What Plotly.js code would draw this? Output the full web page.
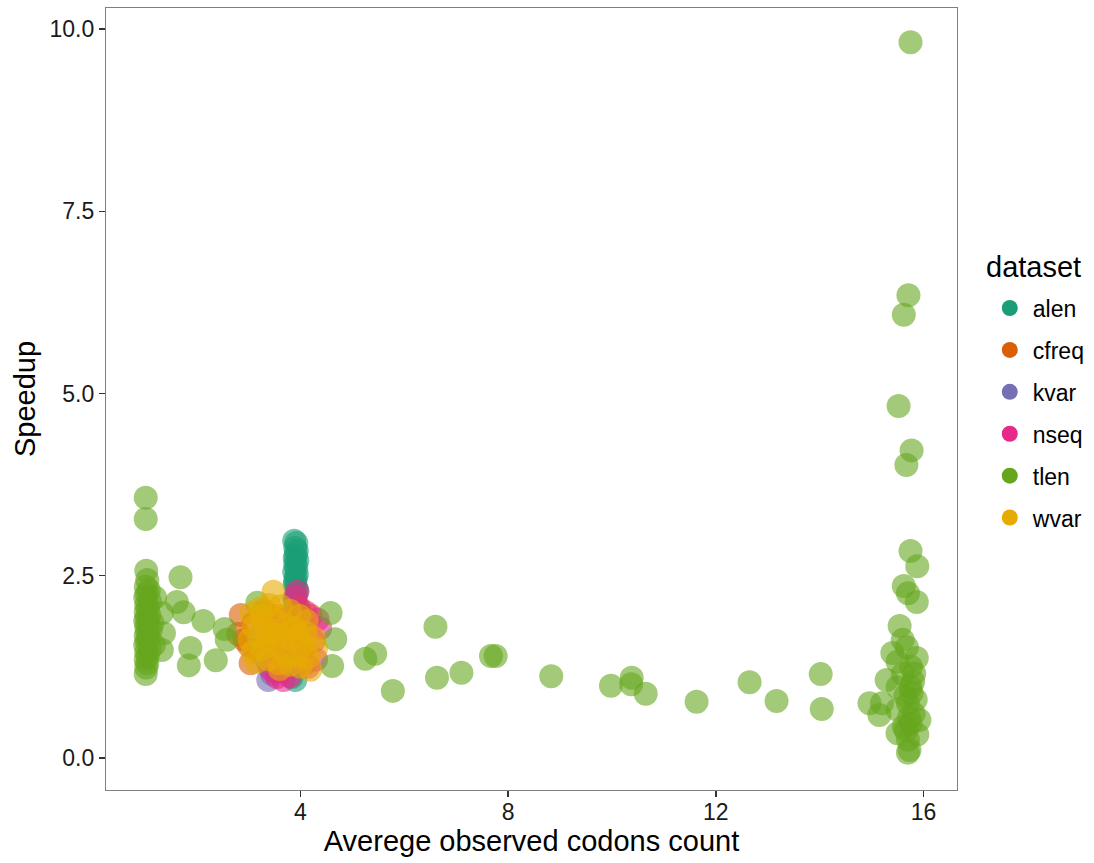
<!DOCTYPE html>
<html>
<head>
<meta charset="utf-8">
<script src="https://cdn.plot.ly/plotly-3.0.1.min.js"></script>
<style>html,body{margin:0;padding:0;background:#fff;}#chart{width:1094px;height:863px;}</style>
</head>
<body>
<div id="chart"></div>
<script>
const datasets = ["alen", "cfreq", "kvar", "nseq", "tlen", "wvar"];
const colors = ["#1B9E77", "#D95F02", "#7570B3", "#E7298A", "#66A61E", "#E6AB02"];

const alenX = [3.88,3.92,3.90,3.93,3.91,3.89,3.94,3.90,3.92,3.88,3.93,3.91,3.90,3.89,3.92,3.94,3.91,3.88,3.90,3.93,3.87,3.92,3.86,3.90,3.83,3.85,3.95];
const alenY = [2.98,2.95,2.88,2.84,2.78,2.74,2.71,2.65,2.61,2.55,2.52,2.47,2.42,2.38,2.33,2.29,2.24,2.18,2.14,2.09,2.02,1.95,1.85,1.07,1.11,1.60,1.75];

const cfreqX = [2.85,2.80,3.04,2.92,3.10,3.30,3.55,3.70,3.97,4.20,4.05,3.40,3.20,3.00,3.60,3.85,4.10];
const cfreqY = [1.96,1.70,1.30,1.62,1.85,2.02,1.95,1.40,2.07,1.95,1.50,1.25,1.45,1.55,1.70,1.80,1.30];

const kvarX = [3.38,3.45,3.60,3.30,3.75,3.50,3.20,3.90,4.00,3.65,3.35,3.80];
const kvarY = [1.07,1.15,1.30,1.50,1.45,1.75,1.65,1.55,1.85,1.60,1.35,1.25];

const nseqX = [3.94,3.90,4.38,4.33,3.55,3.67,3.80,4.25,4.10,3.50,3.70,3.95,4.30,3.45,3.85,4.15];
const nseqY = [2.28,2.20,1.78,1.90,1.11,1.07,1.12,1.60,2.00,1.40,1.90,1.50,1.35,1.20,1.65,1.25];

const tlenX = [1.02,1.02,1.03,1.05,1.02,1.08,1.04,1.01,1.10,1.03,1.06,1.02,1.09,1.04,1.01,1.07,1.03,1.12,1.05,1.02,1.08,1.04,1.01,1.10,1.03,1.06,1.02,1.05,1.03,1.02,1.15,1.20,1.18,
  1.69,1.62,1.75,1.33,1.37,1.33,1.88,1.85,2.13,2.37,2.54,2.58,3.17,
  4.58,4.67,4.61,5.25,5.44,5.78,6.60,6.63,7.10,7.67,7.76,8.83,9.98,10.38,10.37,10.65,11.63,12.65,13.17,14.02,14.04,14.96,
  15.75,15.71,15.62,15.52,15.77,15.67,15.75,15.88,15.62,15.70,15.87,15.54,15.60,15.68,15.40,15.87,15.50,15.76,15.82,15.29,15.50,15.75,15.77,15.20,15.70,15.15,15.50,15.81,15.62,15.75,15.92,15.50,15.70,15.88,15.73,15.70,15.65,15.80,15.60,15.72,15.66,15.85];
const tlenY = [3.57,3.28,2.57,2.44,2.35,2.30,2.25,2.20,2.15,2.10,2.05,2.00,1.96,1.92,1.88,1.84,1.80,1.76,1.72,1.68,1.64,1.60,1.55,1.50,1.45,1.40,1.35,1.30,1.24,1.15,1.85,2.20,1.55,
  2.48,2.14,2.00,1.99,1.71,1.48,1.51,1.27,1.88,1.34,1.77,1.62,2.13,
  1.99,1.63,1.26,1.36,1.43,0.92,1.80,1.10,1.17,1.40,1.40,1.12,0.99,1.10,1.01,0.88,0.77,1.04,0.78,1.15,0.67,0.75,
  9.82,6.35,6.08,4.83,4.22,4.02,2.84,2.63,2.36,2.26,2.14,1.81,1.62,1.52,1.44,1.37,1.32,1.25,1.16,1.07,0.97,0.97,0.89,0.75,0.75,0.59,0.66,0.61,0.43,0.47,0.52,0.34,0.25,0.32,0.11,0.07,0.85,1.05,1.15,0.55,0.38,0.80];

const wvarX = [3.48,3.05,3.22,3.40,3.62,3.80,3.98,4.12,3.10,3.30,3.52,3.72,3.90,4.10,4.25,3.02,3.20,3.45,3.65,3.85,4.05,4.30,3.08,3.28,3.50,3.70,3.92,4.15,3.15,3.38,3.58,3.80,4.00,4.19,3.60,3.35,3.75,3.55,3.95,3.25];
const wvarY = [2.28,1.98,2.05,2.10,2.08,2.02,1.95,1.88,1.80,1.85,1.90,1.82,1.78,1.72,1.65,1.62,1.66,1.70,1.62,1.60,1.55,1.50,1.45,1.50,1.52,1.44,1.40,1.38,1.32,1.35,1.30,1.28,1.25,1.21,1.22,1.60,1.72,1.75,1.68,1.95];

const xTicks = [4, 8, 12, 16];
const yTicks = [0, 2.5, 5, 7.5, 10];
const legendTitle = "dataset";

const seriesX = [alenX, cfreqX, kvarX, nseqX, tlenX, wvarX];
const seriesY = [alenY, cfreqY, kvarY, nseqY, tlenY, wvarY];

const FONT = "Liberation Sans, Arial, sans-serif";
const traces = [];
datasets.forEach((name, i) => {
  traces.push({
    type: "scatter", mode: "markers", x: seriesX[i], y: seriesY[i], name: name,
    showlegend: false, hoverinfo: "x+y+name",
    marker: {color: colors[i], size: 24, opacity: 0.6, line: {width: 0}}
  });
});
datasets.forEach((name, i) => {
  traces.push({
    type: "scatter", mode: "markers", x: [null], y: [null], name: name,
    legendgroup: name, showlegend: true,
    marker: {color: colors[i], size: 24, opacity: 1, line: {width: 0}}
  });
});

const layout = {
  width: 1094, height: 863,
  margin: {l: 106, r: 137, t: 8, b: 73, autoexpand: false},
  paper_bgcolor: "#fff", plot_bgcolor: "#fff",
  font: {family: FONT, color: "#000"},
  xaxis: {
    range: [0.255, 16.645], tickvals: xTicks, ticks: "outside", ticklen: 6,
    tickcolor: "#333", tickwidth: 1.5, showline: true, mirror: true,
    linecolor: "#7f7f7f", linewidth: 1.2, showgrid: false, zeroline: false,
    ticklabelstandoff: -5,
    tickfont: {size: 23, color: "#1a1a1a", family: FONT},
    title: {text: "Averege observed codons count", font: {size: 29, color: "#000", family: FONT}, standoff: 6}
  },
  yaxis: {
    range: [-0.44, 10.29], tickvals: yTicks, tickformat: ".1f", ticks: "outside", ticklen: 6,
    tickcolor: "#333", tickwidth: 1.5, showline: true, mirror: true,
    linecolor: "#7f7f7f", linewidth: 1.2, showgrid: false, zeroline: false,
    tickfont: {size: 23, color: "#1a1a1a", family: FONT},
    title: {text: "Speedup", font: {size: 29, color: "#000", family: FONT}, standoff: 5}
  },
  legend: {
    x: 1.035, xanchor: "left", y: 0.482, yanchor: "middle",
    traceorder: "grouped", tracegroupgap: 9, itemwidth: 36,
    font: {size: 23, family: FONT, color: "#000"},
    bgcolor: "rgba(0,0,0,0)", borderwidth: 0
  },
  annotations: [{
    text: legendTitle, xref: "paper", yref: "paper", x: 1.032, y: 0.6688,
    xanchor: "left", yanchor: "middle", showarrow: false,
    font: {size: 29, family: FONT, color: "#000"}
  }],
  hovermode: "closest"
};

Plotly.newPlot("chart", traces, layout, {displayModeBar: false, staticPlot: true});
</script>
</body>
</html>
